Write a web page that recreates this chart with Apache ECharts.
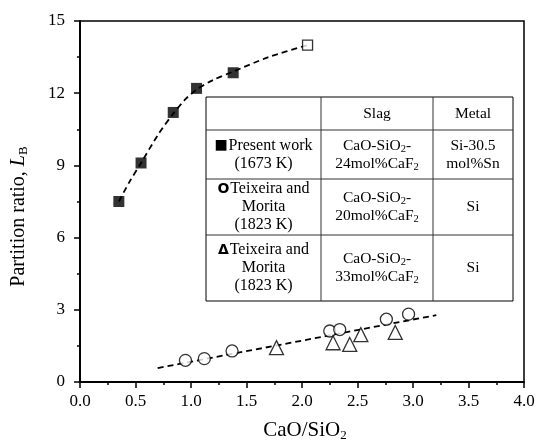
<!DOCTYPE html>
<html>
<head>
<meta charset="utf-8">
<script src="https://cdn.jsdelivr.net/npm/echarts@6/dist/echarts.min.js"></script>
<style>html,body{margin:0;padding:0;background:#fff}#c{width:541px;height:447px}</style>
</head>
<body>
<div id="c"></div>
<script>
// ---- data ----
const presentX = [0.35, 0.55, 0.84, 1.05, 1.38];
const presentY = [7.5, 9.1, 11.2, 12.2, 12.85];
const openSquareX = [2.05];
const openSquareY = [14.0];
const circleX = [0.95, 1.12, 1.37, 2.25, 2.34, 2.76, 2.96];
const circleY = [0.90, 0.97, 1.29, 2.12, 2.18, 2.61, 2.82];
const triangleX = [1.77, 2.28, 2.43, 2.53, 2.84];
const triangleY = [1.43, 1.63, 1.56, 1.97, 2.06];
// dashed guide curve
const curveX = [0.35, 0.45, 0.55, 0.70, 0.84, 0.95, 1.05, 1.20, 1.38, 1.70, 2.05];
const curveY = [7.5, 8.35, 9.1, 10.25, 11.15, 11.75, 12.15, 12.55, 12.9, 13.5, 14.0];
const lineX = [0.70, 3.21];
const lineY = [0.58, 2.78];
const xTicks = [0, 0.5, 1, 1.5, 2, 2.5, 3, 3.5, 4];
const yTicks = [0, 3, 6, 9, 12, 15];
const tableHeader = ['', 'Slag', 'Metal'];
const tableCol0 = [
  '{m|■}{b| }{w|Present work}\n{w|(1673 K)}',
  '{c|O}{b| }{w|Teixeira and}\n{w|Morita}\n{w|(1823 K)}',
  '{t|Δ}{b| }{w|Teixeira and}\n{w|Morita}\n{w|(1823 K)}'
];
const tableCol1 = [
  '{n|CaO-SiO}{s|2}{n|-}\n{n|24mol%CaF}{s|2}',
  '{n|CaO-SiO}{s|2}{n|-}\n{n|20mol%CaF}{s|2}',
  '{n|CaO-SiO}{s|2}{n|-}\n{n|33mol%CaF}{s|2}'
];
const tableCol2 = ['{n|Si-30.5}\n{n|mol%Sn}', '{n|Si}', '{n|Si}'];

const pairs = (xs, ys) => xs.map((x, i) => [x, ys[i]]);
const FONT = '"Liberation Serif", "Times New Roman", serif';

const rich = {
  w: {fontFamily: FONT, fontSize: 16, lineHeight: 18, color: '#000'},
  n: {fontFamily: FONT, fontSize: 15.5, lineHeight: 18, color: '#000'},
  s: {fontFamily: FONT, fontSize: 10.5, lineHeight: 18, color: '#000', padding: [7, 0, 0, 0]},
  b: {fontFamily: FONT, fontSize: 3, lineHeight: 18},
  m: {fontFamily: 'DejaVu Sans', fontSize: 14, lineHeight: 18, color: '#000'},
  c: {fontFamily: 'DejaVu Sans', fontSize: 14, fontWeight: 'bold', lineHeight: 18, color: '#000'},
  t: {fontFamily: 'DejaVu Sans', fontSize: 14, fontWeight: 'bold', lineHeight: 18, color: '#000'}
};

// table layout (pixels)
const colEdges = [206, 321, 433, 513];
const rowEdges = [97, 130, 179, 235, 301];

const graphics = [];
graphics.push({type: 'rect', shape: {x: colEdges[0], y: rowEdges[0], width: colEdges[3] - colEdges[0], height: rowEdges[4] - rowEdges[0]},
  style: {fill: '#fff', stroke: '#000', lineWidth: 1}, z: 100});
for (let i = 1; i < colEdges.length - 1; i++) {
  graphics.push({type: 'line', shape: {x1: colEdges[i], y1: rowEdges[0], x2: colEdges[i], y2: rowEdges[4]}, style: {stroke: '#333', lineWidth: 1}, z: 101});
}
for (let j = 1; j < rowEdges.length - 1; j++) {
  graphics.push({type: 'line', shape: {x1: colEdges[0], y1: rowEdges[j], x2: colEdges[3], y2: rowEdges[j]}, style: {stroke: '#333', lineWidth: 1}, z: 101});
}
function cell(txt, col, row) {
  const cx = (colEdges[col] + colEdges[col + 1]) / 2;
  const cy = (rowEdges[row] + rowEdges[row + 1]) / 2;
  graphics.push({type: 'text', x: cx, y: cy, z: 102,
    style: {text: txt, rich: rich, align: 'center', verticalAlign: 'middle', textAlign: 'center', textVerticalAlign: 'middle'}});
}
tableHeader.forEach((t, i) => { if (t) cell('{n|' + t + '}', i, 0); });
tableCol0.forEach((t, r) => cell(t, 0, r + 1));
tableCol1.forEach((t, r) => cell(t, 1, r + 1));
tableCol2.forEach((t, r) => cell(t, 2, r + 1));

const chart = echarts.init(document.getElementById('c'), null, {renderer: 'canvas'});
const axisCommon = {
  axisLine: {show: true, onZero: false, lineStyle: {color: '#000', width: 2}},
  axisTick: {show: true, inside: false, length: 6, lineStyle: {color: '#000', width: 1.5}},
  minorTick: {show: true, splitNumber: 2, length: 3, lineStyle: {color: '#000', width: 1.5}},
  splitLine: {show: false},
  minorSplitLine: {show: false}
};
chart.setOption({
  animation: false,
  backgroundColor: '#fff',
  grid: {left: 80, right: 17, top: 21, bottom: 65, show: true, borderColor: '#000', borderWidth: 1.5, backgroundColor: 'transparent'},
  xAxis: Object.assign({}, axisCommon, {
    type: 'value', min: xTicks[0], max: xTicks[xTicks.length - 1], interval: xTicks[1] - xTicks[0],
    axisLabel: {color: '#000', fontFamily: FONT, fontSize: 17, margin: 11, formatter: v => v.toFixed(1)},
    name: '{n|CaO/SiO}{s|2}', nameLocation: 'middle', nameGap: 37,
    nameTextStyle: {padding: [0, 0, 0, 6], rich: {
      n: {fontFamily: FONT, fontSize: 21, color: '#000'},
      s: {fontFamily: FONT, fontSize: 13, color: '#000', padding: [10, 0, 0, 0]}
    }}
  }),
  yAxis: Object.assign({}, axisCommon, {
    type: 'value', min: yTicks[0], max: yTicks[yTicks.length - 1], interval: yTicks[1] - yTicks[0],
    axisLabel: {color: '#000', fontFamily: FONT, fontSize: 17, margin: 15},
    name: '{n|Partition ratio, }{i|L}{s|B}', nameLocation: 'middle', nameGap: 50, nameRotate: 90,
    nameTextStyle: {padding: [0, 30, 0, 0], rich: {
      n: {fontFamily: FONT, fontSize: 20, color: '#000'},
      i: {fontFamily: FONT, fontSize: 20, fontStyle: 'italic', color: '#000'},
      s: {fontFamily: FONT, fontSize: 13, color: '#000', padding: [10, 0, 0, 0]}
    }}
  }),
  series: [
    {type: 'line', data: pairs(curveX, curveY), smooth: 0.3, symbol: 'none', silent: true,
      lineStyle: {color: '#000', width: 1.8, type: [6, 4]}, z: 2},
    {type: 'line', data: pairs(lineX, lineY), symbol: 'none', silent: true,
      lineStyle: {color: '#000', width: 1.8, type: [6, 4]}, z: 2},
    {type: 'scatter', data: pairs(presentX, presentY), symbol: 'rect', symbolSize: 11,
      itemStyle: {color: '#000', borderColor: '#000', borderWidth: 0}, z: 5},
    {type: 'scatter', data: pairs(openSquareX, openSquareY), symbol: 'rect', symbolSize: 10,
      itemStyle: {color: '#fff', borderColor: '#000', borderWidth: 1.3}, z: 5},
    {type: 'scatter', data: pairs(circleX, circleY), symbol: 'circle', symbolSize: 12,
      itemStyle: {color: '#fff', borderColor: '#000', borderWidth: 1.3}, z: 5},
    {type: 'scatter', data: pairs(triangleX, triangleY), symbol: 'triangle', symbolSize: 14,
      itemStyle: {color: '#fff', borderColor: '#000', borderWidth: 1.3}, z: 5}
  ],
  graphic: graphics
});
</script>
</body>
</html>
